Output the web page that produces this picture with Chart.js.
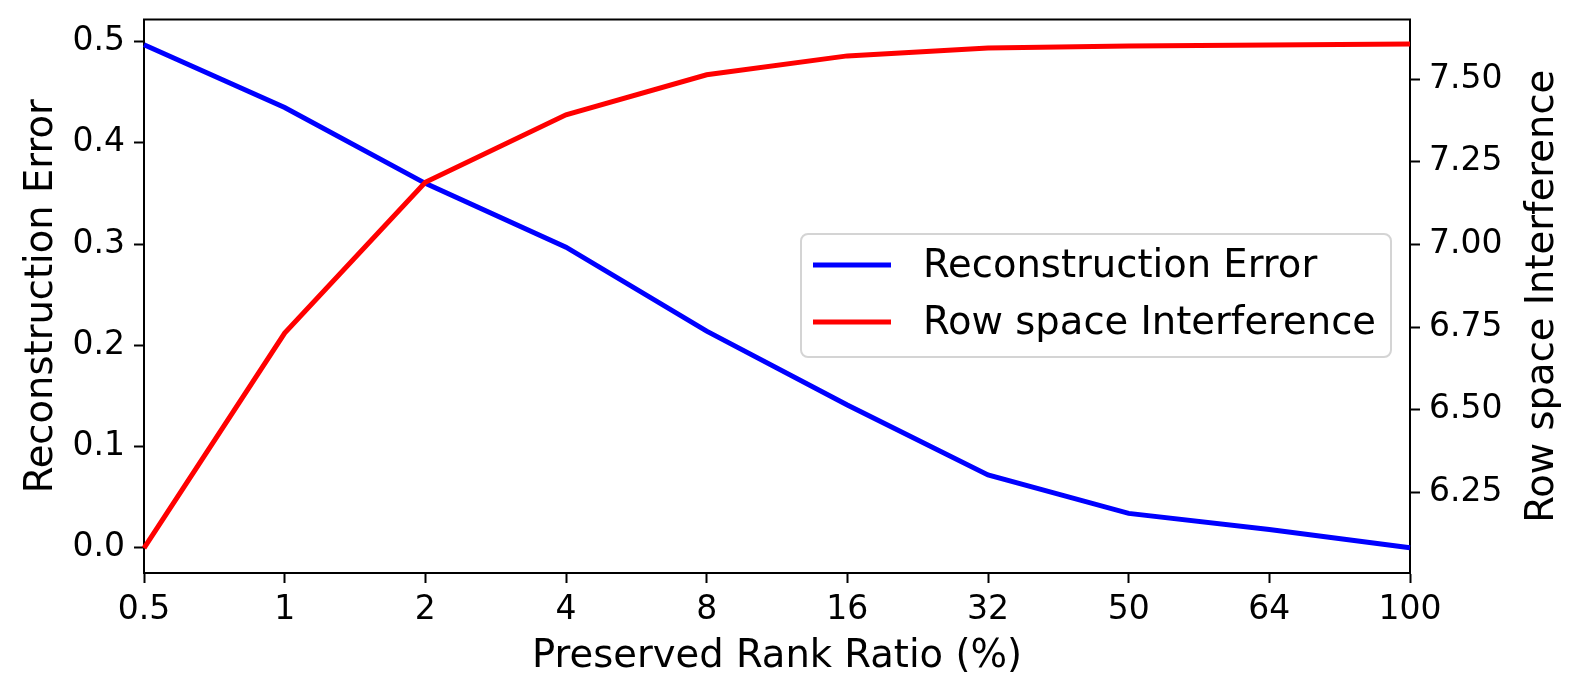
<!DOCTYPE html>
<html>
<head>
<meta charset="utf-8">
<script src="https://cdn.jsdelivr.net/npm/chart.js@4.4.1/dist/chart.umd.min.js"></script>
<style>
  html, body { margin: 0; padding: 0; background: #fff; }
  #wrap { width: 1577px; height: 696px; position: relative; }
</style>
</head>
<body>
<div id="wrap"><canvas id="chart"></canvas></div>
<script>
// values
var rankRatios = ['0.5', '1', '2', '4', '8', '16', '32', '50', '64', '100'];
var reconError = [0.497, 0.435, 0.360, 0.297, 0.214, 0.141, 0.072, 0.034, 0.018, 0.0];
var rowInterference = [6.082, 6.732, 7.188, 7.392, 7.513, 7.570, 7.594, 7.600, 7.603, 7.606];
var leftTicks = [0.0, 0.1, 0.2, 0.3, 0.4, 0.5];
var rightTicks = [6.25, 6.50, 6.75, 7.00, 7.25, 7.50];

var FONT = "'DejaVu Sans', sans-serif";

/** frame on top, right-hand title, legend box inside the plot */
var extras = {
  id: 'extras',
  afterDraw: function(chart) {
    var ctx = chart.ctx;
    var a = chart.chartArea;
    ctx.save();
    ctx.strokeStyle = '#000';
    ctx.lineWidth = 2;
    ctx.beginPath();
    ctx.moveTo(a.left - 1, a.top);
    ctx.lineTo(a.right + 1, a.top);
    ctx.stroke();

    // right axis label, reads bottom-to-top like matplotlib
    ctx.font = '38.5px ' + FONT;
    ctx.fillStyle = '#000';
    ctx.textAlign = 'center';
    ctx.textBaseline = 'middle';
    ctx.translate(1543, (a.top + a.bottom) / 2);
    ctx.rotate(-Math.PI / 2);
    ctx.fillText('Row space Interference', 0, 0);
    ctx.restore();

    // legend
    var bx = 801, by = 234, bw = 590, bh = 123;
    ctx.save();
    ctx.fillStyle = 'rgba(255,255,255,0.8)';
    ctx.strokeStyle = '#d4d4d4';
    ctx.lineWidth = 2;
    ctx.beginPath();
    ctx.roundRect(bx, by, bw, bh, 7);
    ctx.fill();
    ctx.stroke();
    ctx.font = '38.5px ' + FONT;
    ctx.textBaseline = 'middle';
    ctx.textAlign = 'left';
    chart.data.datasets.forEach(function(ds, i) {
      var y = by + 31 + i * 57;
      ctx.strokeStyle = ds.borderColor;
      ctx.lineWidth = ds.borderWidth;
      ctx.beginPath();
      ctx.moveTo(bx + 12, y);
      ctx.lineTo(bx + 90, y);
      ctx.stroke();
      ctx.fillStyle = '#000';
      ctx.fillText(ds.label, bx + 122, y + 2);
    });
    ctx.restore();
  }
};

function axisStyle() {
  return {
    grid: { display: true, drawOnChartArea: false, drawTicks: true, tickLength: 10, tickColor: '#000', tickWidth: 2 },
    border: { display: true, color: '#000', width: 2 }
  };
}

var xAxis = Object.assign(axisStyle(), {
  type: 'category',
  offset: false,
  ticks: { color: '#000', font: { family: FONT, size: 33 }, padding: 8, maxRotation: 0, autoSkip: false },
  title: { display: true, text: 'Preserved Rank Ratio (%)', color: '#000', font: { family: FONT, size: 38.5 }, padding: { top: 4, bottom: 16 } },
  afterFit: function(s) { s.height = 123; }
});

// small lineHeight on the y tick fonts keeps Chart.js from padding the plot top
var yAxis = Object.assign(axisStyle(), {
  type: 'linear',
  position: 'left',
  min: -0.0249,
  max: 0.5219,
  afterBuildTicks: function(s) { s.ticks = leftTicks.map(function(v) { return { value: v }; }); },
  ticks: { color: '#000', font: { family: FONT, size: 33, lineHeight: 0.5 }, padding: 9, callback: function(v) { return v.toFixed(1); } },
  title: { display: true, text: 'Reconstruction Error', color: '#000', font: { family: FONT, size: 38.5 }, padding: { top: 19, bottom: 0 } },
  afterFit: function(s) { s.width = 144; }
});

var y2Axis = Object.assign(axisStyle(), {
  type: 'linear',
  position: 'right',
  min: 6.007,
  max: 7.680,
  afterBuildTicks: function(s) { s.ticks = rightTicks.map(function(v) { return { value: v }; }); },
  ticks: { color: '#000', font: { family: FONT, size: 33, lineHeight: 0.5 }, padding: 9, callback: function(v) { return v.toFixed(2); } },
  afterFit: function(s) { s.width = 167; }
});

var config = {
  type: 'line',
  data: {
    labels: rankRatios,
    datasets: [{
      label: 'Reconstruction Error',
      data: reconError,
      borderColor: '#0000ff',
      backgroundColor: '#0000ff',
      borderWidth: 5,
      pointRadius: 0,
      tension: 0,
      fill: false,
      yAxisID: 'y',
      order: 1
    }, {
      label: 'Row space Interference',
      data: rowInterference,
      borderColor: '#ff0000',
      backgroundColor: '#ff0000',
      borderWidth: 5,
      pointRadius: 0,
      tension: 0,
      fill: false,
      yAxisID: 'y2',
      order: 0
    }]
  },
  options: {
    responsive: true,
    maintainAspectRatio: false,
    animation: false,
    devicePixelRatio: 1,
    layout: { padding: { top: 19.5, left: 0, right: 0, bottom: 0 } },
    plugins: { legend: { display: false }, tooltip: { enabled: false } },
    scales: { x: xAxis, y: yAxis, y2: y2Axis }
  },
  plugins: [extras]
};

new Chart(document.getElementById('chart').getContext('2d'), config);
</script>
</body>
</html>
